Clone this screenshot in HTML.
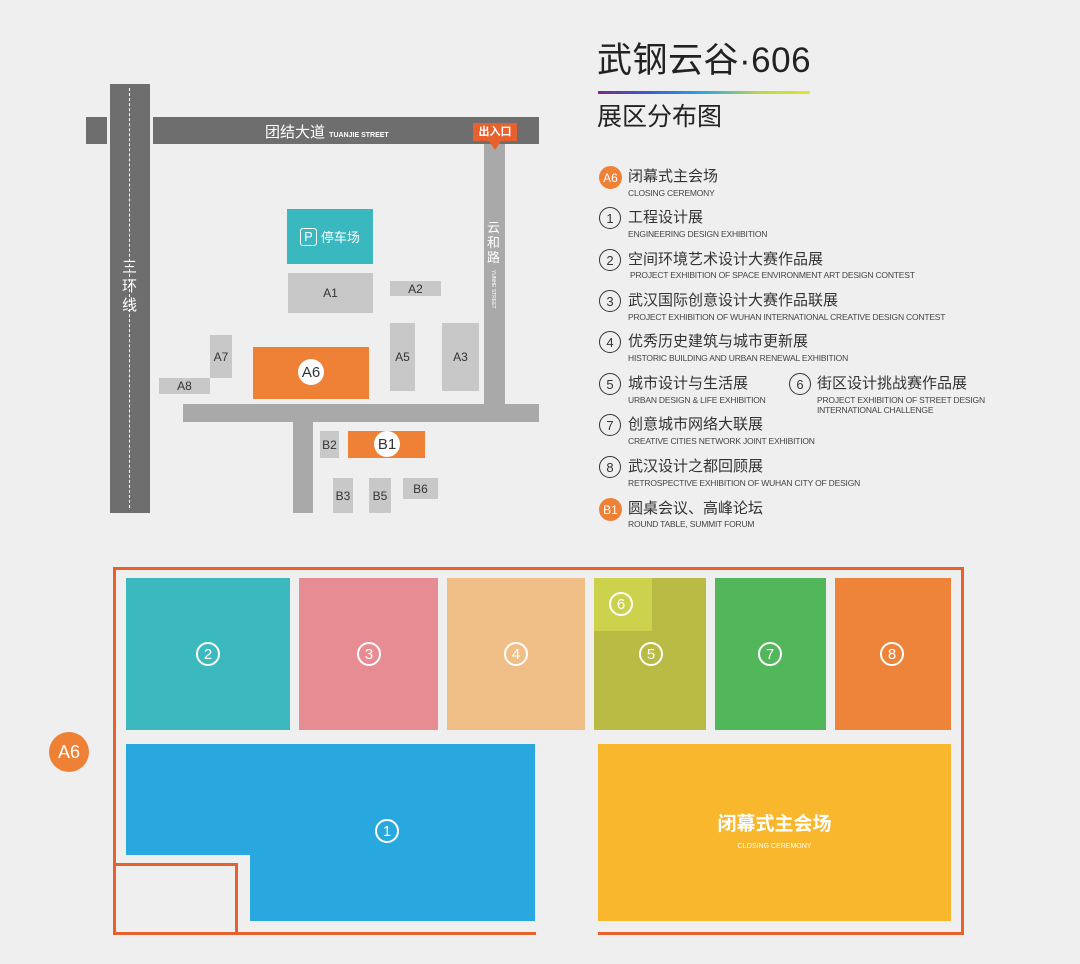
<!DOCTYPE html>
<html><head><meta charset="utf-8"><style>
*{margin:0;padding:0;box-sizing:border-box}
body{width:1080px;height:964px;background:#efefef;position:relative;overflow:hidden;font-family:"Liberation Sans","Noto Sans CJK SC",sans-serif}
.a{position:absolute}
.g{position:absolute;background:#c8c8c8;color:#333;font-size:12px;display:flex;align-items:center;justify-content:center}
.c{position:absolute;border-radius:50%;display:flex;align-items:center;justify-content:center}
.wc{position:absolute;width:24px;height:24px;border:2px solid #fff;border-radius:50%;color:#fff;font-size:15px;display:flex;align-items:center;justify-content:center}
.lc{position:absolute;left:599px;width:22px;height:22px;border:1.5px solid #333;border-radius:50%;font-size:13px;color:#333;display:flex;align-items:center;justify-content:center}
.oc{position:absolute;left:599px;width:23px;height:23px;border-radius:50%;background:#ef8136;color:#fff;font-size:12px;display:flex;align-items:center;justify-content:center}
.cn{position:absolute;left:628px;font-size:15px;color:#333;line-height:16px;white-space:nowrap}
.en{position:absolute;left:628px;font-size:8.5px;color:#444;line-height:10px;white-space:nowrap;letter-spacing:-0.2px}
</style></head><body>
<!-- roads -->
<div class="a" style="left:110px;top:84px;width:40px;height:429px;background:#6e6e6e"></div>
<div class="a" style="left:129px;top:88px;height:420px;border-left:1.5px dashed #fff"></div>
<div class="a" style="left:86px;top:117px;width:21px;height:27px;background:#6e6e6e"></div>
<div class="a" style="left:153px;top:117px;width:386px;height:27px;background:#6e6e6e"></div>
<div class="a" style="left:265px;top:121px;color:#fff;font-size:15px">团结大道 <span style="font-size:7px;font-weight:bold">TUANJIE STREET</span></div>
<div class="a" style="left:484px;top:144px;width:21px;height:261px;background:#a9a9a9"></div>
<div class="a" style="left:183px;top:404px;width:356px;height:18px;background:#a9a9a9"></div>
<div class="a" style="left:293px;top:422px;width:20px;height:91px;background:#a9a9a9"></div>
<div class="a" style="left:473px;top:123px;width:44px;height:18px;background:#e8612c;color:#fff;font-size:11px;font-weight:bold;text-align:center;line-height:18px">出入口</div>
<div class="a" style="left:489px;top:141px;border-left:6px solid transparent;border-right:6px solid transparent;border-top:9px solid #e8612c"></div>
<div class="a" style="left:122px;top:258px;color:#fff;font-size:15px;line-height:19px;width:16px">三环线</div>
<div class="a" style="left:487px;top:220px;color:#fff;font-size:13px;line-height:15px;width:16px">云和路</div>
<div class="a" style="left:490px;top:270px;color:#fff;font-size:5px;writing-mode:vertical-rl">YUNHE STREET</div>
<!-- buildings -->
<div class="a" style="left:287px;top:209px;width:86px;height:55px;background:#3ab8c0;color:#fff;font-size:13px;display:flex;align-items:center;justify-content:center"><span style="border:1.5px solid #fff;border-radius:3px;padding:0 3px;margin-right:4px;font-size:13px;line-height:16px">P</span>停车场</div>
<div class="g" style="left:288px;top:273px;width:85px;height:40px">A1</div>
<div class="g" style="left:390px;top:281px;width:51px;height:15px">A2</div>
<div class="g" style="left:390px;top:323px;width:25px;height:68px">A5</div>
<div class="g" style="left:442px;top:323px;width:37px;height:68px">A3</div>
<div class="g" style="left:210px;top:335px;width:22px;height:43px">A7</div>
<div class="g" style="left:159px;top:378px;width:51px;height:16px">A8</div>
<div class="a" style="left:253px;top:347px;width:116px;height:52px;background:#ef8136"></div>
<div class="c" style="left:298px;top:359px;width:26px;height:26px;background:#fff;color:#333;font-size:15px">A6</div>
<div class="g" style="left:320px;top:431px;width:19px;height:27px">B2</div>
<div class="a" style="left:348px;top:431px;width:77px;height:27px;background:#ef8136"></div>
<div class="c" style="left:374px;top:431px;width:26px;height:26px;background:#fff;color:#333;font-size:15px">B1</div>
<div class="g" style="left:333px;top:478px;width:20px;height:35px">B3</div>
<div class="g" style="left:369px;top:478px;width:22px;height:35px">B5</div>
<div class="g" style="left:403px;top:478px;width:35px;height:21px">B6</div>
<!-- title -->
<div class="a" style="left:597px;top:41px;font-size:35px;color:#222;line-height:40px;white-space:nowrap;letter-spacing:0.5px">武钢云谷·606</div>
<div class="a" style="left:598px;top:91px;width:212px;height:3px;background:linear-gradient(90deg,#7a2a8a,#3a5fd0,#2aa8e0,#b6d84a,#e4e42a)"></div>
<div class="a" style="left:597px;top:103px;font-size:25px;color:#222;line-height:28px">展区分布图</div>
<!-- legend -->
<div class="oc" style="top:166px">A6</div><div class="cn" style="top:169px">闭幕式主会场</div><div class="en" style="top:188px">CLOSING CEREMONY</div>
<div class="lc" style="top:207px">1</div><div class="cn" style="top:210px">工程设计展</div><div class="en" style="top:229px">ENGINEERING DESIGN EXHIBITION</div>
<div class="lc" style="top:249px">2</div><div class="cn" style="top:252px">空间环境艺术设计大赛作品展</div><div class="en" style="top:270px;left:630px">PROJECT EXHIBITION OF SPACE ENVIRONMENT ART DESIGN CONTEST</div>
<div class="lc" style="top:290px">3</div><div class="cn" style="top:293px">武汉国际创意设计大赛作品联展</div><div class="en" style="top:312px">PROJECT EXHIBITION OF WUHAN INTERNATIONAL CREATIVE DESIGN CONTEST</div>
<div class="lc" style="top:331px">4</div><div class="cn" style="top:334px">优秀历史建筑与城市更新展</div><div class="en" style="top:353px">HISTORIC BUILDING AND URBAN RENEWAL EXHIBITION</div>
<div class="lc" style="top:373px">5</div><div class="cn" style="top:376px">城市设计与生活展</div><div class="en" style="top:395px">URBAN DESIGN &amp; LIFE EXHIBITION</div>
<div class="lc" style="top:373px;left:789px">6</div><div class="cn" style="top:376px;left:817px">街区设计挑战赛作品展</div><div class="en" style="top:395px;left:817px">PROJECT EXHIBITION OF STREET DESIGN<br>INTERNATIONAL CHALLENGE</div>
<div class="lc" style="top:414px">7</div><div class="cn" style="top:417px">创意城市网络大联展</div><div class="en" style="top:436px">CREATIVE CITIES NETWORK JOINT EXHIBITION</div>
<div class="lc" style="top:456px">8</div><div class="cn" style="top:459px">武汉设计之都回顾展</div><div class="en" style="top:478px">RETROSPECTIVE EXHIBITION OF WUHAN CITY OF DESIGN</div>
<div class="oc" style="top:498px">B1</div><div class="cn" style="top:501px">圆桌会议、高峰论坛</div><div class="en" style="top:519px">ROUND TABLE, SUMMIT FORUM</div>
<!-- floor plan -->
<div class="a" style="left:113px;top:567px;width:851px;height:3px;background:#e8612c"></div>
<div class="a" style="left:113px;top:567px;width:3px;height:368px;background:#e8612c"></div>
<div class="a" style="left:961px;top:567px;width:3px;height:368px;background:#e8612c"></div>
<div class="a" style="left:113px;top:932px;width:423px;height:3px;background:#e8612c"></div>
<div class="a" style="left:598px;top:932px;width:366px;height:3px;background:#e8612c"></div>
<div class="a" style="left:113px;top:863px;width:125px;height:3px;background:#e8612c"></div>
<div class="a" style="left:235px;top:863px;width:3px;height:70px;background:#e8612c"></div>
<div class="c" style="left:49px;top:732px;width:40px;height:40px;background:#ef8136;color:#fff;font-size:18px">A6</div>
<div class="a" style="left:126px;top:578px;width:164px;height:152px;background:#3cb8bf"></div>
<div class="a" style="left:299px;top:578px;width:139px;height:152px;background:#e88c93"></div>
<div class="a" style="left:447px;top:578px;width:138px;height:152px;background:#f0bf88"></div>
<div class="a" style="left:594px;top:578px;width:112px;height:152px;background:#b9bb44"></div>
<div class="a" style="left:594px;top:578px;width:58px;height:53px;background:#cdd24d"></div>
<div class="a" style="left:715px;top:578px;width:111px;height:152px;background:#52b75a"></div>
<div class="a" style="left:835px;top:578px;width:116px;height:152px;background:#ee843a"></div>
<div class="wc" style="left:196px;top:642px">2</div>
<div class="wc" style="left:357px;top:642px">3</div>
<div class="wc" style="left:504px;top:642px">4</div>
<div class="wc" style="left:639px;top:642px">5</div>
<div class="wc" style="left:609px;top:592px">6</div>
<div class="wc" style="left:758px;top:642px">7</div>
<div class="wc" style="left:880px;top:642px">8</div>
<div class="a" style="left:126px;top:744px;width:409px;height:111px;background:#29a8e0"></div>
<div class="a" style="left:250px;top:854px;width:285px;height:67px;background:#29a8e0"></div>
<div class="wc" style="left:375px;top:819px">1</div>
<div class="a" style="left:598px;top:744px;width:353px;height:177px;background:#f8b72c"></div>
<div class="a" style="left:598px;top:813px;width:353px;text-align:center;color:#fff;font-size:19px;font-weight:bold;line-height:24px">闭幕式主会场</div>
<div class="a" style="left:598px;top:842px;width:353px;text-align:center;color:#fff;font-size:7px;line-height:10px">CLOSING CEREMONY</div>
</body></html>
